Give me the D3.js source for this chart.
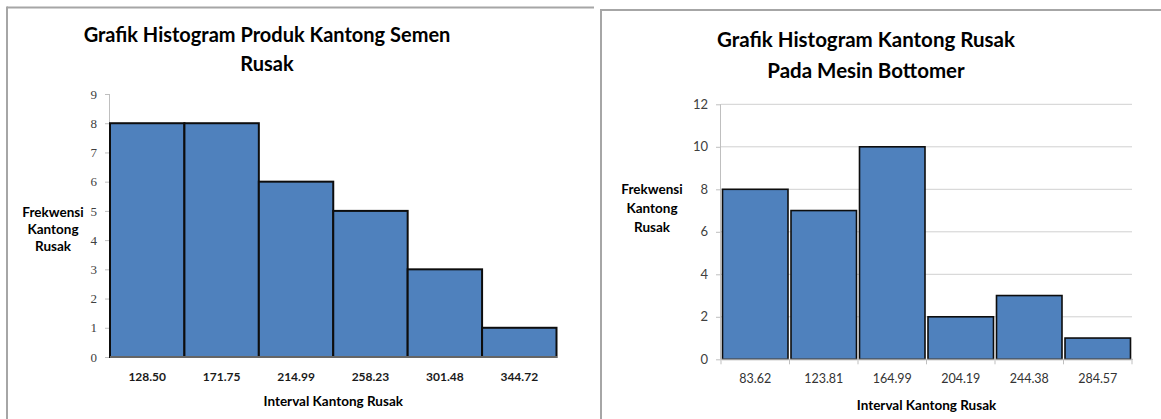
<!DOCTYPE html>
<html>
<head>
<meta charset="utf-8">
<script src="https://cdn.jsdelivr.net/npm/d3@7"></script>
<style>
  html, body { margin: 0; padding: 0; background: #fff; }
  svg { display: block; }
</style>
</head>
<body>
<svg id="chart" width="1161" height="419"></svg>
<script>
// Histogram 1: produk kantong semen rusak
const leftIntervals = ["128.50", "171.75", "214.99", "258.23", "301.48", "344.72"];
const leftFreq = [8, 8, 6, 5, 3, 1];
const leftYTicks = [0, 1, 2, 3, 4, 5, 6, 7, 8, 9];

// Histogram 2: kantong rusak pada mesin bottomer
const rightIntervals = ["83.62", "123.81", "164.99", "204.19", "244.38", "284.57"];
const rightFreq = [8, 7, 10, 2, 3, 1];
const rightYTicks = [0, 2, 4, 6, 8, 10, 12];

const svg = d3.select("#chart");
const SANS = "Lato, 'Open Sans', sans-serif";

// panel frames (grey top + left edges)
function frame(x0, y0, x1) {
  svg.append("line").attr("x1", x0).attr("y1", y0).attr("x2", x1).attr("y2", y0)
    .attr("stroke", "#a6a6a6").attr("stroke-width", 2);
  svg.append("line").attr("x1", x0).attr("y1", y0 - 1).attr("x2", x0).attr("y2", 419)
    .attr("stroke", "#a6a6a6").attr("stroke-width", 2);
}
frame(7, 7.5, 594);
frame(601, 10, 1161);

function histogram(o) {
  const g = svg.append("g");
  const x = d3.scaleBand().domain(o.cats).range([o.x0, o.x1]).paddingInner(0).paddingOuter(0);
  const y = d3.scaleLinear().domain([0, d3.max(o.yTicks)]).range([o.yBottom, o.yTop]);

  // title
  o.title.forEach((t, i) => {
    g.append("text").attr("x", o.titleX).attr("y", o.titleY + i * o.titleGap)
      .attr("text-anchor", "middle").attr("font-family", SANS).attr("font-weight", "bold")
      .attr("font-size", o.titleSize).attr("fill", "#000").text(t);
  });

  // gridlines
  if (o.grid) {
    g.append("g").selectAll("line").data(o.yTicks.filter(d => d > 0)).join("line")
      .attr("x1", o.x0).attr("x2", o.x1).attr("y1", d => y(d)).attr("y2", d => y(d))
      .attr("stroke", "#d0d0d0").attr("stroke-width", 1);
  }

  // y axis
  const yAxis = g.append("g").attr("transform", `translate(${o.x0},0)`)
    .call(d3.axisLeft(y).tickValues(o.yTicks).tickSize(5).tickPadding(o.yPad).tickFormat(d3.format("d")));
  yAxis.select(".domain").attr("stroke", "#bfbfbf").attr("d", `M-0.5,${o.yTop}V${o.yBottom}`);
  yAxis.selectAll(".tick line").attr("stroke", "#bfbfbf");
  yAxis.selectAll(".tick text").attr("font-family", o.yFont).attr("font-size", o.yFontSize)
    .attr("fill", "#404040");

  // bars
  g.append("g").selectAll("rect").data(o.values).join("rect")
    .attr("x", (d, i) => x(o.cats[i]) + o.inset)
    .attr("width", x.bandwidth() - 2 * o.inset)
    .attr("y", d => y(d))
    .attr("height", d => y(0) - y(d))
    .attr("fill", "#4f81bd")
    .attr("stroke", "#0d0d0d").attr("stroke-width", o.barStroke);

  // x axis baseline
  g.append("line").attr("x1", o.x0).attr("x2", o.x1 + 1).attr("y1", y(0)).attr("y2", y(0))
    .attr("stroke", "#bfbfbf");
  if (o.xTicks) {
    g.append("g").selectAll("line").data(d3.range(o.cats.length + 1)).join("line")
      .attr("x1", i => o.x0 + i * x.step()).attr("x2", i => o.x0 + i * x.step())
      .attr("y1", y(0)).attr("y2", y(0) + 5).attr("stroke", "#bfbfbf");
  }

  // category labels
  g.append("g").selectAll("text").data(o.cats).join("text")
    .attr("x", d => x(d) + x.bandwidth() / 2).attr("y", o.xLabelY)
    .attr("text-anchor", "middle").attr("font-family", SANS)
    .attr("font-weight", o.xLabelWeight).attr("font-size", o.xLabelSize)
    .attr("fill", o.xLabelFill).text(d => d);

  // axis titles
  g.append("text").attr("x", (o.x0 + o.x1) / 2).attr("y", o.xTitleY)
    .attr("text-anchor", "middle").attr("font-family", SANS).attr("font-weight", "bold")
    .attr("font-size", o.axisTitleSize).attr("fill", "#000").text("Interval Kantong Rusak");
  ["Frekwensi", "Kantong", "Rusak"].forEach((t, i) => {
    g.append("text").attr("x", o.yTitleX).attr("y", o.yTitleY + i * o.yTitleGap)
      .attr("text-anchor", "middle").attr("font-family", SANS).attr("font-weight", "bold")
      .attr("font-size", o.axisTitleSize).attr("fill", "#000").text(t);
  });
}

histogram({
  cats: leftIntervals, values: leftFreq, yTicks: leftYTicks,
  x0: 110, x1: 556.5, yTop: 94, yBottom: 357,
  title: ["Grafik Histogram Produk Kantong Semen", "Rusak"],
  titleX: 267, titleY: 42, titleGap: 29, titleSize: 20,
  grid: false, inset: 0, barStroke: 2,
  yFont: "'Liberation Serif', serif", yFontSize: 13, yPad: 8,
  xTicks: false, xLabelY: 381, xLabelWeight: "bold", xLabelSize: 12, xLabelFill: "#1a1a1a",
  xTitleY: 406, axisTitleSize: 13.5,
  yTitleX: 53, yTitleY: 217, yTitleGap: 17
});

histogram({
  cats: rightIntervals, values: rightFreq, yTicks: rightYTicks,
  x0: 721, x1: 1132, yTop: 104.3, yBottom: 359.3,
  title: ["Grafik Histogram Kantong Rusak", "Pada Mesin Bottomer"],
  titleX: 866, titleY: 47, titleGap: 31, titleSize: 20.5,
  grid: true, inset: 1.5, barStroke: 1.6,
  yFont: SANS, yFontSize: 13, yPad: 8,
  xTicks: true, xLabelY: 383, xLabelWeight: "normal", xLabelSize: 12.5, xLabelFill: "#333",
  xTitleY: 410, axisTitleSize: 13.5,
  yTitleX: 652, yTitleY: 194, yTitleGap: 19
});
</script>
</body>
</html>
